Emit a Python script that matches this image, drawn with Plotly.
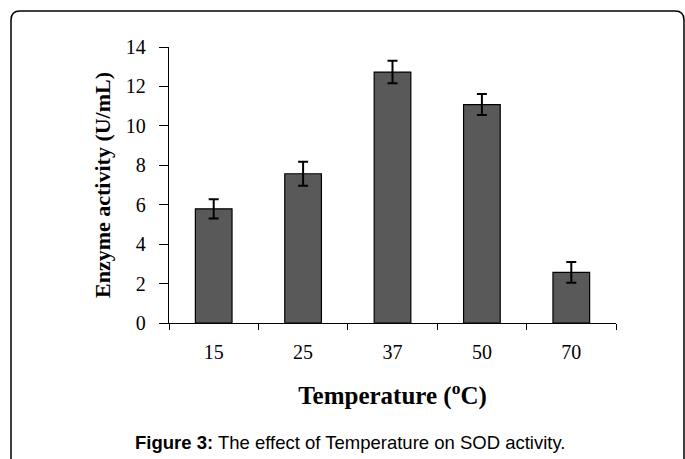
import plotly.graph_objects as go

categories = ["15", "25", "37", "50", "70"]
activity = [5.79, 7.57, 12.73, 11.08, 2.57]
errors = [0.49, 0.61, 0.57, 0.53, 0.53]
y_ticks = [0, 2, 4, 6, 8, 10, 12, 14]

W, H = 685, 459
L, R, T, B = 169, 616, 47, 323  # plot area in pixels

def px(x):
    return (x - L) / (R - L)

def py(y):
    return (B - y) / (B - T)

fig = go.Figure(go.Bar(
    x=categories, y=activity,
    marker=dict(color="#595959", line=dict(color="black", width=1.2)),
    error_y=dict(type="data", array=errors, color="black", thickness=2, width=5),
))

serif = "Liberation Serif, Times New Roman, serif"

fig.update_layout(
    width=W, height=H,
    margin=dict(l=L, r=W - R, t=T, b=H - B),
    paper_bgcolor="white", plot_bgcolor="white",
    bargap=0.59,
    showlegend=False,
    font=dict(family=serif, color="black", size=20),
    xaxis=dict(
        showline=True, linecolor="black", linewidth=1.3,
        ticks="outside", tickson="boundaries", ticklen=6, tickcolor="black", tickwidth=1.3,
        ticklabelstandoff=11,
        tickfont=dict(family=serif, size=20),
        title=dict(text="<b>Temperature (<sup>o</sup>C)</b>", font=dict(family=serif, size=25), standoff=24),
        showgrid=False, zeroline=False,
    ),
    yaxis=dict(
        range=[0, 14], tickvals=y_ticks,
        showline=True, linecolor="black", linewidth=1.3,
        ticks="outside", ticklen=9, tickcolor="black", tickwidth=1.3,
        ticklabelstandoff=9,
        tickfont=dict(family=serif, size=20),
        title=dict(text="<b>Enzyme activity (U/mL)</b>", font=dict(family=serif, size=22), standoff=9),
        showgrid=False, zeroline=False,
    ),
)

# Rounded outer frame (open at the bottom, as in the reference crop)
x0, x1, y0, y1, r = 11, 684, 11, 475, 9
path = (f"M {px(x0)} {py(y1)} L {px(x0)} {py(y0 + r)} "
        f"Q {px(x0)} {py(y0)} {px(x0 + r)} {py(y0)} "
        f"L {px(x1 - r)} {py(y0)} Q {px(x1)} {py(y0)} {px(x1)} {py(y0 + r)} "
        f"L {px(x1)} {py(y1)}")
fig.add_shape(type="path", path=path, xref="paper", yref="paper",
              line=dict(color="black", width=1.5), layer="above")

fig.add_annotation(
    text="<b>Figure 3:</b> The effect of Temperature on SOD activity.",
    xref="paper", yref="paper", x=px(133), y=py(442),
    xanchor="left", yanchor="middle", showarrow=False,
    font=dict(family="Liberation Sans, Arial, sans-serif", size=18.5, color="black"),
)

fig.write_html("out.html")
